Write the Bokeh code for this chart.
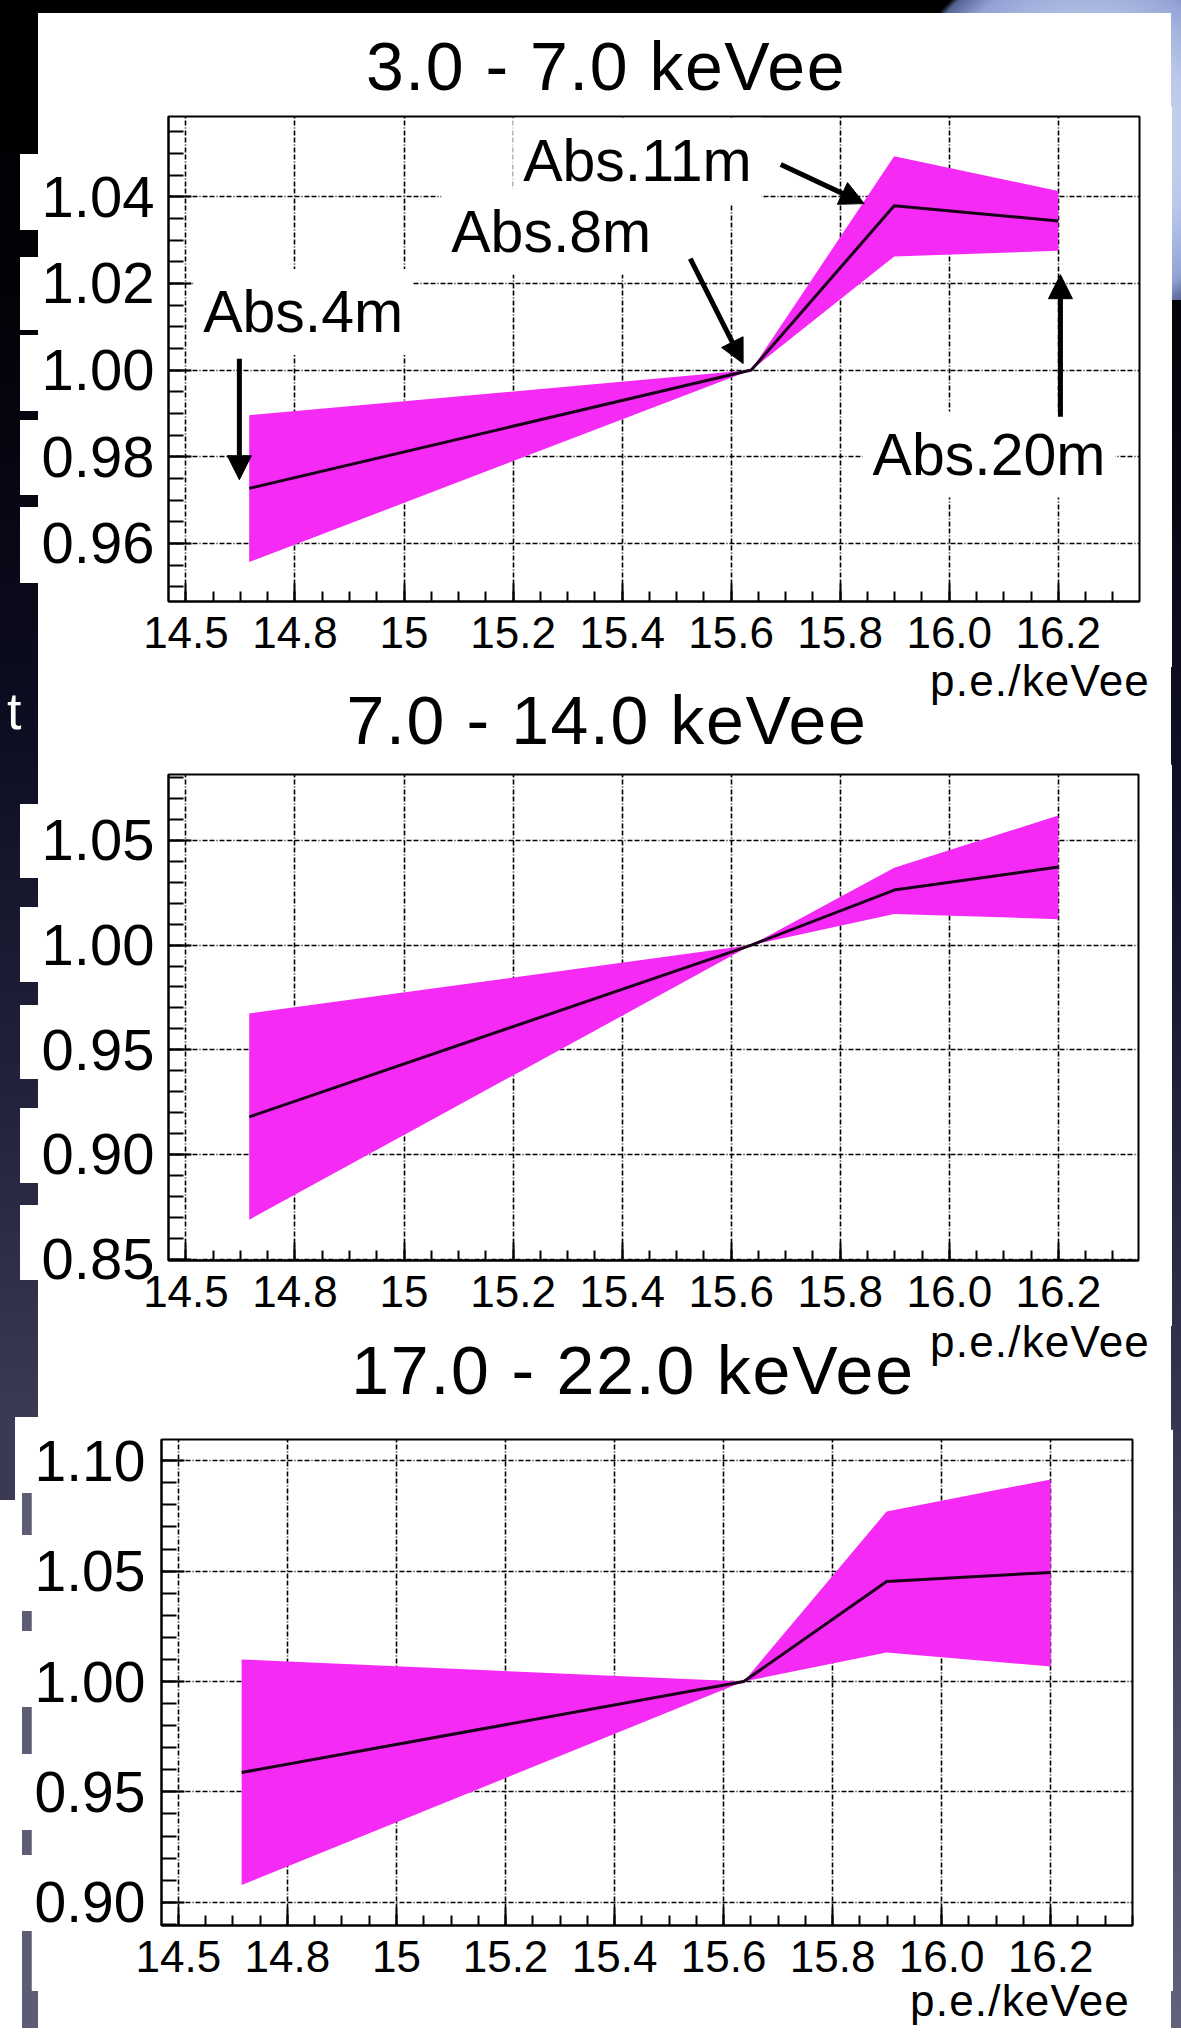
from bokeh.plotting import figure
from bokeh.models import Range1d, FixedTicker, Label, Arrow, NormalHead, Div
from bokeh.layouts import column
from bokeh.embed import file_html
from bokeh.resources import INLINE

# ---------------- data ----------------
x_abs = [14.716, 15.637, 15.899, 16.2]          # p.e./keVee at Abs.4m, 8m, 11m, 20m
abs_names = ["Abs.4m", "Abs.8m", "Abs.11m", "Abs.20m"]

titles = ["3.0 - 7.0 keVee", "7.0 - 14.0 keVee", "17.0 - 22.0 keVee"]
x_label = "p.e./keVee"

p1_center = [0.9727, 1.000, 1.0379, 1.0344]
p1_upper = [0.9896, 1.000, 1.0493, 1.0413]
p1_lower = [0.9557, 1.000, 1.0262, 1.0275]

p2_center = [0.9179, 1.000, 1.0263, 1.0373]
p2_upper = [0.9673, 1.000, 1.0370, 1.0619]
p2_lower = [0.8688, 1.000, 1.0149, 1.0124]

p3_center = [0.9588, 1.000, 1.0453, 1.0494]
p3_upper = [1.0100, 1.000, 1.0770, 1.0915]
p3_lower = [0.9078, 1.000, 1.0131, 1.0068]

x_ticks = [14.6, 14.8, 15.0, 15.2, 15.4, 15.6, 15.8, 16.0, 16.2]
x_tick_labels = ["14.5", "14.8", "15", "15.2", "15.4", "15.6", "15.8", "16.0", "16.2"]

y_ticks_1 = [0.96, 0.98, 1.00, 1.02, 1.04]
y_tick_labels_1 = ["0.96", "0.98", "1.00", "1.02", "1.04"]
y_ticks_2 = [0.85, 0.90, 0.95, 1.00, 1.05]
y_tick_labels_2 = ["0.85", "0.90", "0.95", "1.00", "1.05"]
y_ticks_3 = [0.90, 0.95, 1.00, 1.05, 1.10]
y_tick_labels_3 = ["0.90", "0.95", "1.00", "1.05", "1.10"]

# annotation arrows in panel 1 (start x, start y, end x, end y)
arrows_1 = [
    (14.698, 1.0026, 14.698, 0.9747),
    (15.525, 1.0257, 15.622, 1.0015),
    (15.691, 1.0474, 15.844, 1.0384),
    (16.204, 0.9892, 16.204, 1.0220),
]
# annotation text anchors in panel 1 (center x, baseline y)
abs_label_pos = [(14.815, 1.0134), (15.270, 1.0319), (15.428, 1.0483), (16.073, 0.9805)]

# ---------------- layout constants (screen px) ----------------
FONT = "Liberation Sans"
MAGENTA = "#f52af5"
X0, X1 = 38, 1171          # white slide area

panels = [
    dict(w=971, h=485, x=(14.568, 16.349), y=(0.9466, 1.0585),
         bl=129, br=33, bt=10, bb=66, margin=(0, 10, 0, 38), yfont="58px", ystand=14),
    dict(w=970, h=486, x=(14.568, 16.347), y=(0.8493, 1.0815),
         bl=129, br=34, bt=10, bb=66, margin=(0, 10, 0, 38), yfont="58px", ystand=14),
    dict(w=971, h=486, x=(14.569, 16.350), y=(0.8895, 1.1096),
         bl=128, br=41, bt=10, bb=66, margin=(0, 10, 0, 31), yfont="57px", ystand=16),
]


def frange(a, b, step):
    n = int(round((b - a) / step))
    return [round(a + i * step, 4) for i in range(n + 1)]


def make_panel(P, center, upper, lower, yticks, ylabels, yminor_step):
    p = figure(frame_width=P["w"], frame_height=P["h"],
               min_border_left=P["bl"], min_border_right=P["br"],
               min_border_top=P["bt"], min_border_bottom=P["bb"],
               x_range=Range1d(*P["x"]), y_range=Range1d(*P["y"]),
               output_backend="svg", toolbar_location=None,
               background_fill_color="white", border_fill_color="white",
               outline_line_color="black", outline_line_width=2,
               margin=P["margin"])
    p.varea(x=x_abs, y1=lower, y2=upper, fill_color=MAGENTA)
    p.line(x_abs, center, line_color="#1a001a", line_width=3)

    p.xaxis.ticker = FixedTicker(ticks=x_ticks, minor_ticks=frange(14.55, 16.35, 0.05))
    p.xaxis.major_label_overrides = {t: l for t, l in zip(x_ticks, x_tick_labels)}
    p.yaxis.ticker = FixedTicker(ticks=yticks,
                                 minor_ticks=frange(yticks[0] - 0.1, yticks[-1] + 0.1, yminor_step))
    p.yaxis.major_label_overrides = {t: l for t, l in zip(yticks, ylabels)}

    for ax in (p.xaxis[0], p.yaxis[0]):
        ax.axis_line_width = 2
        ax.major_tick_out = 0
        ax.minor_tick_out = 0
        ax.major_tick_line_width = 2
        ax.minor_tick_line_width = 2
        ax.major_label_text_font = FONT
        ax.major_label_text_color = "black"
    p.xaxis.major_tick_in = 18
    p.xaxis.minor_tick_in = 10
    p.xaxis.major_label_text_font_size = "44px"
    p.xaxis.major_label_standoff = 15
    p.yaxis.major_tick_in = 23
    p.yaxis.minor_tick_in = 15
    p.yaxis.major_label_text_font_size = P["yfont"]
    p.yaxis.major_label_standoff = P["ystand"]

    for g in (p.xgrid[0], p.ygrid[0]):
        g.grid_line_color = "black"
        g.grid_line_width = 1.6
        g.grid_line_dash = "5 2 5 2 1 2"
    return p


def text_div(height, items, top_margin=0):
    """items: (text, font px, screen x, baseline y inside the div, align, spacing, colour)"""
    spans = []
    for text, size, sx, base, align, spacing, colour in items:
        top = base - 0.8465 * size
        if align == "center":
            pos = f"left:{sx - X0}px;transform:translateX(-50%);"
        elif align == "left":
            pos = f"left:{sx - X0}px;"
        else:
            pos = f"right:{X1 - sx}px;"
        spans.append(
            f'<span style="position:absolute;white-space:nowrap;{pos}top:{top:.1f}px;'
            f"font-family:'{FONT}';font-size:{size}px;line-height:{size}px;"
            f'letter-spacing:{spacing}px;color:{colour};">{text}</span>')
    html = (f'<div style="position:relative;width:{X1 - X0}px;height:{height}px;'
            f'background:#ffffff;overflow:visible;">' + "".join(spans) + "</div>")
    return Div(text=html, width=X1 - X0, height=height,
               margin=(top_margin, 1181 - X1, 0, X0),
               styles={"overflow": "visible"})


P1, P2, P3 = panels
p1 = make_panel(P1, p1_center, p1_upper, p1_lower, y_ticks_1, y_tick_labels_1, 0.005)
p2 = make_panel(P2, p2_center, p2_upper, p2_lower, y_ticks_2, y_tick_labels_2, 0.01)
p3 = make_panel(P3, p3_center, p3_upper, p3_lower, y_ticks_3, y_tick_labels_3, 0.01)

# Abs. annotations on the first panel
for (lx, ly), name in zip(abs_label_pos, abs_names):
    p1.add_layout(Label(x=lx, y=ly, text=name, text_font=FONT, text_font_size="59px",
                        text_color="black", text_align="center", text_baseline="alphabetic",
                        background_fill_color="white", padding=10))
for (xs, ys, xe, ye) in arrows_1:
    p1.add_layout(Arrow(end=NormalHead(size=24, fill_color="black", line_color="black"),
                        x_start=xs, y_start=ys, x_end=xe, y_end=ye,
                        line_color="black", line_width=5))

# title / axis-title strips
d1 = text_div(93, [(titles[0], 68, 606, 77, "center", 1.5, "#000")], top_margin=13)
d2 = text_div(97, [(x_label, 44, 1150, 29, "right", 1.2, "#000"),
                   (titles[1], 68, 607, 77, "center", 1.6, "#000"),
                   ("t", 52, 7, 62, "left", 0, "#ffffff")])
d3 = text_div(103, [(x_label, 44, 1150, 31, "right", 1.2, "#000"),
                    (titles[2], 68, 633, 68, "center", 1.8, "#000")])
d4 = text_div(37, [(x_label, 44, 1130, 25, "right", 1.2, "#000")])

# slide background around the white panel
layers = []
for y0, y1 in [(154, 230), (257, 330), (335, 411), (420, 495), (507, 583),
               (804, 878), (907, 982), (1005, 1079), (1108, 1183), (1205, 1280)]:
    layers.append(f"linear-gradient(#ffffff,#ffffff) 20px {y0}px / 18px {y1 - y0}px no-repeat")
for y0, y1 in [(1493, 1535), (1611, 1631), (1707, 1754), (1830, 1855), (1931, 2033)]:
    layers.append(f"linear-gradient(#5c5c74,#5c5c74) 22px {y0}px / 16px {y1 - y0}px no-repeat")
layers.append("linear-gradient(#3a3a55,#3a3a55) 0px 1417px / 15px 83px no-repeat")
sphere = "#e4eaf8 0px, #bcc8ea 110px, #93a2d4 165px, #566193 188px, rgba(0,0,0,0) 194px"
layers.append(f"radial-gradient(circle at 1085px 140px, {sphere}) 0px 0px / 1181px 13px no-repeat")
layers.append(f"radial-gradient(circle at -86px 140px, {sphere}) 1171px 0px / 10px 300px no-repeat")
layers.append("linear-gradient(#000000,#000000) 0px 0px / 1181px 13px no-repeat")
layers.append("linear-gradient(to bottom, #000000 0px, #05050f 400px, #14142c 900px, "
              "#34344e 1400px, #62627a 2033px) 1171px 0px / 10px 2033px no-repeat")
layers.append("#ffffff linear-gradient(to bottom, #000000 0px, #020208 300px, #0c0c20 700px, "
              "#22223c 1100px, #3a3a55 1417px, #ffffff 1417px, #ffffff 2033px) "
              "0px 0px / 38px 2033px no-repeat")

layout = column(d1, p1, d2, p2, d3, p3, d4,
                styles={"background": ", ".join(layers)})

open("out.html", "w").write(file_html(layout, INLINE))
